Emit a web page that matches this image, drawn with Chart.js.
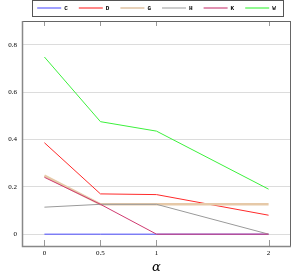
<!DOCTYPE html>
<html>
<head>
<meta charset="utf-8">
<script src="https://cdn.jsdelivr.net/npm/chart.js@4"></script>
<style>
  html, body { margin: 0; padding: 0; background: #fff; }
  #wrap { width: 292px; height: 276px; }
</style>
</head>
<body>
<div id="wrap"><canvas id="chart" width="292" height="276"></canvas></div>
<script>
const alphas = [0, 0.5, 1, 2]
const xTicks = [0, 0.5, 1, 2]
const yTicks = [0, 0.2, 0.4, 0.6, 0.8]

const seriesNames = ['C', 'D', 'G', 'H', 'K', 'W']
const valC = [0, 0, 0, 0]
const valD = [0.386, 0.170, 0.167, 0.080]
const valG = [0.247, 0.126, 0.126, 0.126]
const valH = [0.114, 0.126, 0.126, 0]
const valK = [0.240, 0.126, 0, 0]
const valW = [0.748, 0.475, 0.435, 0.190]

const lineColors = ['#4d4dff', '#ff2a2a', '#e6c9a8', '#9a9a9a', '#cf3a70', '#3cf03c']
const legendColors = ['#a0a0ff', '#ff8888', '#e6d0b8', '#cccccc', '#e090b0', '#90f890']
const lineWidths = [1, 1, 2.5, 1, 1, 1]

const allValues = [valC, valD, valG, valH, valK, valW]

const datasets = seriesNames.map((name, i) => ({
    label: name,
    data: alphas.map((a, j) => ({x: a, y: allValues[i][j]})),
    borderColor: lineColors[i],
    backgroundColor: legendColors[i],
    borderWidth: lineWidths[i],
    pointRadius: 0,
    tension: 0,
    fill: false,
    order: seriesNames.length - i
}))

// plot frame, inner ticks and legend box
const framePlugin = {
    id: 'frame',
    afterDraw(chart) {
        const ctx = chart.ctx
        const a = chart.chartArea
        const xs = chart.scales.x
        ctx.save()
        ctx.strokeStyle = '#999'
        ctx.lineWidth = 1
        xTicks.forEach(t => {
            const px = Math.round(xs.getPixelForValue(t)) + 0.5
            ctx.beginPath()
            ctx.moveTo(px, a.top); ctx.lineTo(px, a.top + 5)
            ctx.moveTo(px, a.bottom); ctx.lineTo(px, a.bottom - 6)
            ctx.stroke()
        })
        ctx.strokeStyle = '#666'
        ctx.strokeRect(Math.round(a.left) + 0.5, Math.round(a.top) + 0.5,
            Math.round(a.right - a.left) - 1, Math.round(a.bottom - a.top))
        ctx.strokeStyle = '#888'
        ctx.lineWidth = 1.5
        ctx.beginPath()
        ctx.moveTo(a.left + 0.5, a.top); ctx.lineTo(a.left + 0.5, a.bottom + 0.5)
        ctx.lineTo(a.right, a.bottom + 0.5)
        ctx.stroke()

        const boxes = chart.legend.legendHitBoxes
        if (boxes && boxes.length) {
            const l = Math.min(...boxes.map(b => b.left)) - 5
            const r = Math.max(...boxes.map(b => b.left + b.width)) + 7
            ctx.strokeStyle = '#555'
            ctx.lineWidth = 1
            ctx.strokeRect(Math.round(l) + 0.5, 0.5, Math.round(r - l), 16)
        }
        ctx.restore()
    }
}

new Chart(document.getElementById('chart'), {
    type: 'line',
    data: { datasets },
    options: {
        responsive: false,
        animation: false,
        layout: { padding: { top: -6, right: 1, left: 0, bottom: 0 } },
        plugins: {
            tooltip: { enabled: false },
            legend: {
                position: 'top',
                fullSize: false,
                labels: {
                    boxWidth: 24,
                    boxHeight: 2,
                    padding: 11,
                    color: '#000',
                    font: { family: 'Liberation Mono', size: 6, weight: 'bold' },
                    sort: (a, b) => a.datasetIndex - b.datasetIndex,
                    generateLabels(chart) {
                        return chart.data.datasets.map((ds, i) => ({
                            text: ds.label,
                            fillStyle: legendColors[i],
                            strokeStyle: legendColors[i],
                            lineWidth: 0,
                            hidden: false,
                            datasetIndex: i
                        }))
                    }
                }
            }
        },
        scales: {
            x: {
                type: 'linear',
                min: -0.2,
                max: 2.2,
                afterBuildTicks(scale) { scale.ticks = xTicks.map(v => ({value: v})) },
                afterFit(scale) { scale.height = 30 },
                grid: { display: false, drawTicks: false },
                border: { display: false },
                ticks: {
                    padding: 3,
                    color: '#000',
                    font: { family: 'Liberation Serif', size: 7 },
                    callback: v => String(v)
                },
                title: {
                    display: true,
                    text: 'α',
                    color: '#000',
                    font: { family: 'DejaVu Serif', size: 13, style: 'italic' },
                    padding: { top: 0, bottom: 1 }
                }
            },
            y: {
                min: -0.05,
                max: 0.9,
                afterBuildTicks(scale) { scale.ticks = yTicks.map(v => ({value: v})) },
                afterFit(scale) { scale.width = 22 },
                grid: { color: '#dcdcdc', lineWidth: 1, drawTicks: false },
                border: { display: false },
                ticks: {
                    padding: 5,
                    color: '#000',
                    font: { family: 'Liberation Serif', size: 7 },
                    callback: v => String(v)
                }
            }
        }
    },
    plugins: [framePlugin]
})
</script>
</body>
</html>
